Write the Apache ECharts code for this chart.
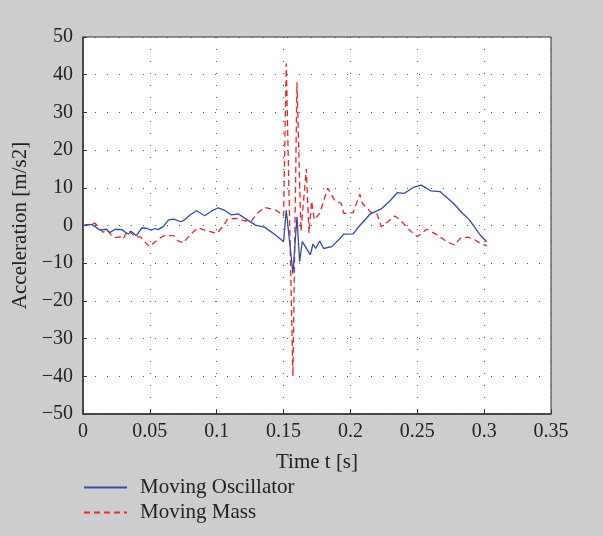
<!DOCTYPE html>
<html>
<head>
<meta charset="utf-8">
<script src="https://cdn.jsdelivr.net/npm/echarts@6/dist/echarts.min.js"></script>
<style>
  html, body { margin: 0; padding: 0; background: #cdcdcf; }
  #chart { width: 603px; height: 536px; }
</style>
</head>
<body>
<div id="chart"></div>
<script>
// Moving Oscillator (blue, solid)
var timeOsc = [0, 0.0065, 0.0127, 0.0177, 0.020, 0.024, 0.029, 0.034, 0.036, 0.040, 0.044, 0.048, 0.051, 0.054, 0.056, 0.060, 0.064, 0.068, 0.073, 0.076, 0.080, 0.085, 0.091, 0.096, 0.101, 0.106, 0.111, 0.116, 0.122, 0.129, 0.136, 0.144, 0.150, 0.152, 0.157, 0.160, 0.162, 0.164, 0.170, 0.172, 0.174, 0.177, 0.180, 0.186, 0.192, 0.195, 0.202, 0.207, 0.215, 0.223, 0.230, 0.235, 0.240, 0.247, 0.253, 0.260, 0.267, 0.277, 0.284, 0.289, 0.297, 0.302];
var accOsc = [0, 0.3, -1.2, -1.0, -1.9, -1.0, -1.1, -2.3, -1.5, -2.7, -0.6, -0.8, -1.2, -0.8, -1.1, -0.3, 1.5, 1.7, 1.0, 1.5, 2.8, 3.9, 2.6, 3.8, 4.7, 4.0, 2.8, 3.1, 1.7, 0.1, -0.5, -2.5, -4.3, 4.1, -12.7, 2.3, -9.6, -4.3, -7.8, -4.9, -6.1, -4.1, -6.1, -5.6, -3.5, -2.3, -2.2, 0, 3.1, 4.4, 6.7, 8.7, 8.5, 10.1, 10.7, 9.2, 9.0, 5.9, 3.2, 1.5, -2.5, -4.3];

// Moving Mass (red, dashed)
var timeMass = [0, 0.009, 0.0127, 0.015, 0.018, 0.021, 0.024, 0.028, 0.030, 0.033, 0.035, 0.039, 0.043, 0.046, 0.050, 0.054, 0.058, 0.061, 0.068, 0.071, 0.075, 0.080, 0.086, 0.091, 0.100, 0.105, 0.108, 0.115, 0.121, 0.126, 0.130, 0.136, 0.144, 0.148, 0.150, 0.152, 0.157, 0.160, 0.163, 0.167, 0.169, 0.171, 0.173, 0.177, 0.183, 0.188, 0.193, 0.195, 0.202, 0.207, 0.209, 0.215, 0.220, 0.223, 0.228, 0.233, 0.237, 0.243, 0.250, 0.257, 0.265, 0.272, 0.278, 0.282, 0.288, 0.293, 0.297, 0.302];
var accMass = [0, 0.6, -0.8, -1.8, -1.2, -2.5, -3.2, -3.0, -3.6, -1.5, -1.6, -3.0, -3.0, -4.3, -5.6, -4.3, -3.2, -2.7, -2.7, -4.1, -4.6, -2.5, -0.6, -1.2, -2.1, -0.1, 1.7, 1.9, 1.2, 1.2, 3.2, 4.8, 4.1, 3.2, 2.5, 43, -40, 38, -1.5, 15, -2, 6.5, 1.5, 3.2, 9.9, 6.8, 5.9, 3.2, 3.4, 8.3, 5.9, 3.6, 3.0, -0.3, 1.0, 2.5, 1.6, -0.8, -3.0, -1.0, -2.5, -4.3, -5.2, -3.4, -3.1, -3.8, -4.7, -5.4];

var xTicks = { min: 0, max: 0.35, step: 0.05 };
var yTicks = { min: -50, max: 50, step: 10 };

function pairs(xs, ys) {
  return xs.map(function (x, i) { return [x, ys[i]]; });
}

var font = 'Liberation Serif';
var myChart = echarts.init(document.getElementById('chart'));
var dotted = { color: '#555', width: 1, type: [1, 11] };

var option = {
  backgroundColor: '#cdcdcf',
  animation: false,
  textStyle: { fontFamily: font },
  grid: {
    left: 83, top: 37, right: 52, bottom: 122,
    show: true, backgroundColor: '#fff', borderColor: '#333', borderWidth: 1
  },
  legend: {
    orient: 'vertical',
    left: 83, top: 477, padding: 0,
    itemWidth: 43, itemHeight: 21, itemGap: 4,
    itemStyle: { opacity: 0 },
    textStyle: { fontFamily: font, fontSize: 21, color: '#222', padding: [0, 0, 0, 8] },
    data: ['Moving Oscillator', 'Moving Mass']
  },
  xAxis: {
    type: 'value',
    min: xTicks.min, max: xTicks.max, interval: xTicks.step,
    name: 'Time t [s]', nameLocation: 'middle', nameGap: 38,
    nameTextStyle: { fontFamily: font, fontSize: 21, color: '#222' },
    axisLine: { onZero: false, lineStyle: { color: '#333', width: 1.5 } },
    axisTick: { inside: true, length: 4, lineStyle: { color: '#333' } },
    axisLabel: { fontFamily: font, fontSize: 20, color: '#222', margin: 8 },
    splitLine: { show: true, lineStyle: dotted }
  },
  yAxis: {
    type: 'value',
    min: yTicks.min, max: yTicks.max, interval: yTicks.step,
    name: 'Acceleration [m/s2]', nameLocation: 'middle', nameGap: 52,
    nameTextStyle: { fontFamily: font, fontSize: 21, color: '#222' },
    axisLine: { onZero: false, lineStyle: { color: '#333', width: 1.5 } },
    axisTick: { inside: true, length: 4, lineStyle: { color: '#333' } },
    axisLabel: {
      fontFamily: font, fontSize: 20, color: '#222', margin: 10,
      formatter: function (v) { return v < 0 ? '\u2212' + Math.abs(v) : String(v); }
    },
    splitLine: { show: true, lineStyle: dotted }
  },
  series: [
    {
      name: 'Moving Oscillator', type: 'line', symbol: 'none',
      data: pairs(timeOsc, accOsc),
      lineStyle: { color: '#2f4ea3', width: 1.3 },
      itemStyle: { color: '#2f4ea3' }, z: 3
    },
    {
      name: 'Moving Mass', type: 'line', symbol: 'none',
      data: pairs(timeMass, accMass),
      lineStyle: { color: '#f0222a', width: 1.3, type: [6, 4] },
      itemStyle: { color: '#f0222a' }, z: 2
    }
  ]
};
myChart.setOption(option);
</script>
</body>
</html>
